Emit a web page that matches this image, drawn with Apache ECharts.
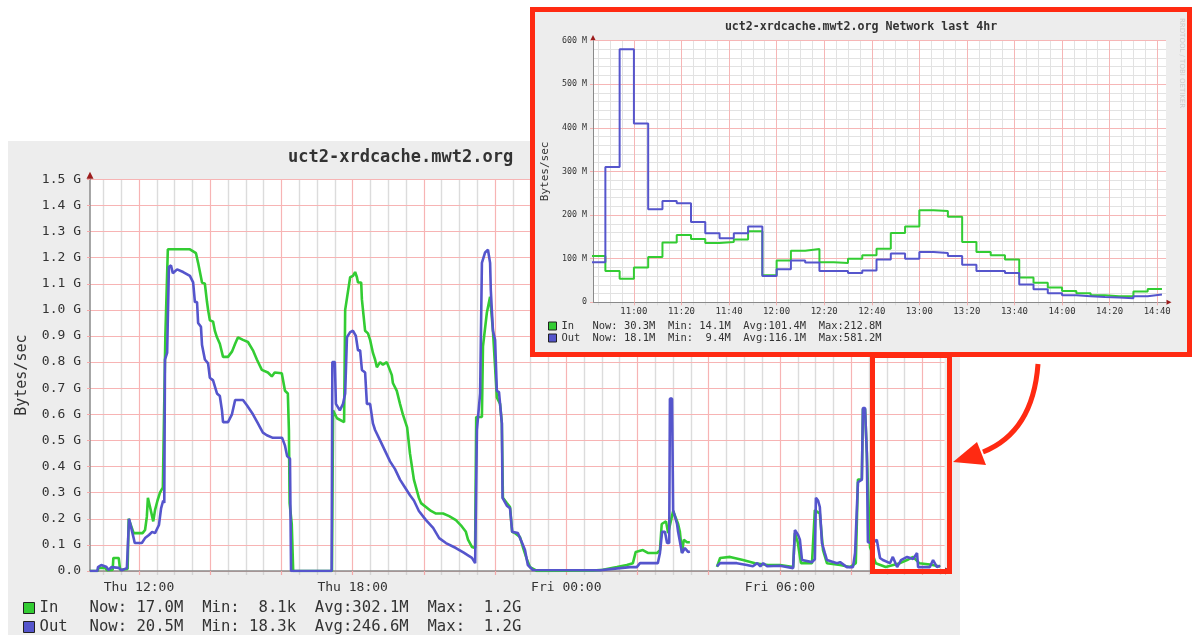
<!DOCTYPE html>
<html><head><meta charset="utf-8">
<script src="https://cdn.jsdelivr.net/npm/echarts@6/dist/echarts.min.js"></script>
<style>
html,body{margin:0;padding:0;background:#fff;width:1192px;height:635px;overflow:hidden;}
#main{position:absolute;left:0;top:0;width:1192px;height:635px;}
#inset{position:absolute;left:530px;top:7px;width:662px;height:350px;box-sizing:border-box;border:5px solid #ff2a12;background:#ededed;}
</style></head><body>
<div id="main"></div><div id="inset"></div>
<script>
// ---------- DATA: last-day chart (x = hours since Thu 00:00, y = GB/s) ----------
const dayIn = [
[10.62,0.0],[10.84,0.0],[10.86,0.012],[11.05,0.012],[11.10,0.003],[11.26,0.004],[11.28,0.05],[11.43,0.05],[11.47,0.004],[11.68,0.008],[11.71,0.20],[11.76,0.20],[11.85,0.145],[12.10,0.145],[12.17,0.157],[12.22,0.207],[12.25,0.28],[12.31,0.245],[12.40,0.19],[12.45,0.233],[12.52,0.27],[12.59,0.30],[12.67,0.32],[12.72,0.32],[12.74,0.90],[12.79,0.90],[12.81,1.232],[13.43,1.232],[13.60,1.217],[13.66,1.18],[13.77,1.105],[13.85,1.10],[13.91,1.03],[13.94,1.0],[13.99,0.96],[14.08,0.955],[14.13,0.92],[14.19,0.895],[14.27,0.87],[14.36,0.82],[14.50,0.82],[14.61,0.84],[14.70,0.87],[14.78,0.895],[14.92,0.885],[15.06,0.877],[15.20,0.845],[15.31,0.81],[15.45,0.77],[15.62,0.76],[15.73,0.745],[15.81,0.76],[16.01,0.757],[16.10,0.69],[16.18,0.68],[16.21,0.54],[16.23,0.26],[16.27,0.26],[16.29,0.18],[16.31,0.18],[16.33,0.0],
[17.42,0.0],[17.45,0.615],[17.56,0.585],[17.76,0.57],[17.79,1.0],[17.84,1.0],[17.93,1.125],[18.01,1.13],[18.07,1.145],[18.12,1.125],[18.15,1.105],[18.24,1.105],[18.26,1.04],[18.30,1.04],[18.35,0.92],[18.43,0.91],[18.49,0.885],[18.57,0.835],[18.63,0.81],[18.68,0.78],[18.77,0.80],[18.85,0.79],[18.96,0.80],[19.00,0.80],[19.10,0.75],[19.13,0.72],[19.24,0.69],[19.33,0.64],[19.41,0.60],[19.53,0.55],[19.61,0.45],[19.72,0.35],[19.86,0.28],[19.92,0.26],[20.20,0.23],[20.34,0.22],[20.54,0.22],[20.71,0.21],[20.90,0.195],[21.04,0.175],[21.18,0.15],[21.24,0.12],[21.35,0.092],[21.44,0.088],
[21.47,0.59],[21.63,0.59],[21.66,0.86],[21.77,0.99],[21.86,1.05],[21.94,0.92],[22.05,0.665],[22.14,0.64],[22.19,0.565],[22.22,0.28],[22.33,0.26],[22.42,0.245],[22.48,0.15],[22.56,0.145],[22.70,0.13],[22.78,0.092],[22.90,0.042],[22.98,0.015],[23.18,0.0],[24.75,0.002],[25.03,0.005],[25.42,0.015],[25.70,0.023],[25.87,0.03],[25.95,0.073],[26.15,0.08],[26.29,0.069],[26.55,0.069],[26.63,0.08],[26.68,0.18],[26.80,0.19],[26.86,0.145],[26.89,0.14],[27.00,0.23],[27.14,0.18],[27.19,0.15],[27.25,0.07],[27.30,0.12],[27.39,0.11],[27.47,0.11],[27.8,null],
[28.23,0.016],[28.32,0.05],[28.60,0.054],[28.96,0.042],[29.30,0.03],[29.66,0.023],[30.00,0.023],[30.37,0.015],[30.42,0.145],[30.50,0.11],[30.59,0.03],[30.90,0.03],[30.98,0.233],[31.12,0.22],[31.21,0.08],[31.32,0.03],[31.69,0.023],[31.97,0.015],[32.13,0.03],[32.19,0.35],[32.30,0.35],[32.33,0.62],[32.39,0.62],[32.44,0.45],[32.53,0.092],[32.69,0.03],[32.97,0.015],[33.37,0.03],[33.57,0.042],[33.74,0.054],[33.91,0.03],[34.21,0.025],[34.50,0.017]
];
const dayOut = [
[10.62,0.0],[10.83,0.0],[10.85,0.015],[10.94,0.023],[11.09,0.015],[11.14,0.004],[11.23,0.015],[11.43,0.012],[11.51,0.003],[11.66,0.011],[11.70,0.015],[11.72,0.20],[11.77,0.20],[11.85,0.126],[11.88,0.107],[12.08,0.107],[12.17,0.126],[12.28,0.138],[12.37,0.15],[12.45,0.145],[12.56,0.176],[12.62,0.24],[12.68,0.27],[12.71,0.26],[12.73,0.81],[12.79,0.835],[12.81,0.835],[12.84,1.165],[12.90,1.17],[12.95,1.14],[13.07,1.155],[13.24,1.145],[13.43,1.13],[13.52,1.105],[13.57,1.03],[13.63,1.03],[13.66,0.95],[13.74,0.935],[13.77,0.865],[13.85,0.81],[13.94,0.795],[13.99,0.74],[14.08,0.73],[14.19,0.68],[14.27,0.67],[14.33,0.615],[14.36,0.57],[14.50,0.57],[14.61,0.60],[14.70,0.655],[14.92,0.655],[15.03,0.635],[15.20,0.60],[15.34,0.565],[15.40,0.55],[15.48,0.53],[15.59,0.52],[15.76,0.51],[16.02,0.51],[16.10,0.48],[16.16,0.44],[16.24,0.43],[16.27,0.0],
[17.41,0.0],[17.43,0.80],[17.50,0.80],[17.53,0.64],[17.64,0.615],[17.73,0.64],[17.79,0.68],[17.84,0.895],[17.93,0.915],[18.01,0.92],[18.09,0.90],[18.15,0.845],[18.21,0.845],[18.26,0.77],[18.35,0.76],[18.40,0.64],[18.49,0.64],[18.57,0.565],[18.63,0.54],[18.77,0.50],[18.91,0.46],[19.05,0.42],[19.19,0.39],[19.33,0.35],[19.47,0.32],[19.61,0.29],[19.72,0.27],[19.86,0.23],[20.06,0.195],[20.26,0.165],[20.43,0.126],[20.62,0.107],[20.90,0.088],[21.12,0.07],[21.35,0.05],[21.44,0.03],
[21.46,0.03],[21.49,0.54],[21.58,0.68],[21.63,1.18],[21.66,1.18],[21.72,1.22],[21.80,1.23],[21.86,1.18],[21.88,1.075],[21.94,0.92],[22.00,0.885],[22.05,0.69],[22.11,0.685],[22.19,0.565],[22.21,0.28],[22.33,0.25],[22.42,0.24],[22.48,0.15],[22.64,0.145],[22.76,0.107],[22.84,0.08],[22.92,0.023],[23.06,0.004],[24.95,0.003],[25.51,0.011],[25.79,0.015],[25.98,0.015],[26.07,0.03],[26.57,0.03],[26.63,0.069],[26.69,0.15],[26.77,0.15],[26.83,0.107],[26.89,0.107],[26.91,0.66],[26.97,0.66],[27.00,0.233],[27.05,0.226],[27.11,0.18],[27.14,0.15],[27.19,0.15],[27.25,0.069],[27.28,0.069],[27.33,0.088],[27.42,0.073],[27.47,0.075],[27.8,null],
[28.23,0.018],[28.32,0.03],[28.79,0.03],[29.07,0.023],[29.24,0.018],[29.36,0.03],[29.45,0.018],[29.53,0.03],[29.64,0.018],[30.00,0.02],[30.37,0.011],[30.42,0.157],[30.51,0.138],[30.56,0.12],[30.62,0.042],[30.90,0.034],[30.98,0.045],[31.01,0.28],[31.07,0.27],[31.12,0.245],[31.18,0.107],[31.26,0.069],[31.32,0.042],[31.60,0.03],[31.69,0.034],[31.88,0.015],[32.05,0.015],[32.11,0.069],[32.19,0.34],[32.30,0.35],[32.33,0.624],[32.39,0.624],[32.44,0.45],[32.47,0.11],[32.61,0.107],[32.72,0.12],[32.81,0.05],[32.89,0.042],[33.09,0.03],[33.17,0.054],[33.29,0.015],[33.40,0.042],[33.57,0.054],[33.74,0.046],[33.85,0.069],[33.88,0.015],[34.21,0.015],[34.30,0.042],[34.41,0.015],[34.50,0.0205]
];
const dayLabelHours = [12, 18, 24, 30];
const dayMajorHours = [12, 14, 16, 18, 20, 22, 24, 26, 28, 30, 32, 34];
const dayStats = {
  In:  'Now: 17.0M  Min:  8.1k  Avg:302.1M  Max:  1.2G',
  Out: 'Now: 20.5M  Min: 18.3k  Avg:246.6M  Max:  1.2G'
};

// ---------- DATA: last-4hr inset (x = minutes since midnight, 6-min steps, y = MB/s) ----------
const insetTimes = [642,648,654,660,666,672,678,684,690,696,702,708,714,720,726,732,738,744,750,756,762,768,774,780,786,792,798,804,810,816,822,828,834,840,846,852,858,864,870,876,882];
const insetIn  = [106,72,54,80,104,137,154,145,136,138,144,163,62,96,118,122,92,90,100,108,123,159,174,211,209,196,138,115,108,98,57,45,34,26,21,16,14,14,25,30.3];
const insetOut = [92,310,580,410,213,232,227,184,158,147,158,174,60,76,96,91,72,72,67,73,98,112,100,115,113,106,86,72,72,67,41,30,21,16,14,12,11,9.4,14,18.1];
const insetMajorMinutes = [660,680,700,720,740,760,780,800,820,840,860,880];
const insetStats = {
  In:  'Now: 30.3M  Min: 14.1M  Avg:101.4M  Max:212.8M',
  Out: 'Now: 18.1M  Min:  9.4M  Avg:116.1M  Max:581.2M'
};

// ---------- styling ----------
const MONO = "'DejaVu Sans Mono', monospace";
const GREEN = '#33cc33', BLUE = '#5555cc', RED = '#ff2a12';
const ARROW = '#9c1c1c', AXIS = '#8a8a8a', TXT = '#333';

// tick helpers (grid positions only)
const dayMinorHours = [];
for (let h = 11; h <= 34.5; h += 0.5) if (h % 2 !== 0) dayMinorHours.push(h);
const insetMinorMinutes = [];
for (let m = 645; m <= 880; m += 5) if (m % 20 !== 0) insetMinorMinutes.push(m);

const pad2 = n => String(n).padStart(2, '0');
const fmtDay = h => (h < 24 ? 'Thu ' : 'Fri ') + pad2(Math.floor(h % 24)) + ':00';
const fmtMin = m => pad2(Math.floor(m / 60)) + ':' + pad2(Math.round(m % 60));

function legendRow(name, left, top, box, fs, lh, nameW, stats) {
  return {
    left: left, top: top, padding: 0, orient: 'horizontal', icon: 'rect', itemWidth: box, itemHeight: box,
    selectedMode: false, data: [name],
    itemStyle: { borderColor: '#222', borderWidth: 1 },
    textStyle: { fontFamily: MONO, fontSize: fs, color: TXT, lineHeight: lh,
      rich: { n: { width: nameW, fontFamily: MONO, fontSize: fs, color: TXT, lineHeight: lh },
              s: { fontFamily: MONO, fontSize: fs, color: TXT, lineHeight: lh } } },
    formatter: nm => '{n|' + nm + '}{s|' + stats[nm] + '}'
  };
}

// ================= MAIN (last day) =================
const DAY_MIN = 10.624, DAY_MAX = 34.624;
const mainChart = echarts.init(document.getElementById('main'));
mainChart.setOption({
  animation: false,
  title: {
    text: 'uct2-xrdcache.mwt2.org', left: 288, top: 149, padding: 0,
    textStyle: { fontFamily: MONO, fontSize: 17, fontWeight: 'bold', color: TXT }
  },
  legend: [
    legendRow('In', 23, 600, 11, 15.6, 16, 50, dayStats),
    legendRow('Out', 23, 619, 11, 15.6, 16, 50, dayStats)
  ],
  grid: { left: 90, top: 179.3, width: 854.6, height: 391.7, show: true, backgroundColor: '#fff', borderWidth: 0, outerBoundsMode: 'none' },
  xAxis: [
    { type: 'value', min: DAY_MIN, max: DAY_MAX, position: 'bottom', z: 1,
      axisLine: { show: false, onZero: false }, axisLabel: { show: false },
      axisTick: { show: true, customValues: dayMinorHours, length: 4, lineStyle: { color: '#d4d4d4', width: 1.4 } },
      splitLine: { show: true, lineStyle: { color: '#dcdcdc', width: 1.4 } } },
    { type: 'value', min: DAY_MIN, max: DAY_MAX, position: 'bottom', z: 2,
      axisLine: { show: true, onZero: false, lineStyle: { color: AXIS, width: 1.5 } },
      axisTick: { show: true, customValues: dayMajorHours, length: 4, lineStyle: { color: '#f4a8a8', width: 1.2 } },
      axisLabel: { customValues: dayLabelHours, formatter: fmtDay, margin: 10, fontFamily: MONO, fontSize: 13, color: TXT },
      splitLine: { show: true, lineStyle: { color: '#f7b4b4', width: 1.2 } } },
    { type: 'value', min: DAY_MIN, max: DAY_MAX, position: 'bottom', z: 3,
      axisLine: { show: true, onZero: false, symbol: ['none', 'triangle'], symbolSize: [7, 7], symbolOffset: [0, 4],
        lineStyle: { color: ARROW, width: 0 } },
      axisTick: { show: false }, axisLabel: { show: false }, splitLine: { show: false } }
  ],
  yAxis: [
    { type: 'value', min: 0, max: 1.5, interval: 0.1, position: 'left', z: 2,
      axisLine: { show: true, onZero: false, lineStyle: { color: AXIS, width: 1.5 } },
      axisTick: { show: true, length: 3, lineStyle: { color: '#f4a8a8' } },
      axisLabel: { margin: 9, fontFamily: MONO, fontSize: 13, color: TXT,
        formatter: v => v === 0 ? '0.0' : v.toFixed(1) + ' G' },
      splitLine: { show: true, lineStyle: { color: '#f7b4b4', width: 1.2 } },
      name: 'Bytes/sec', nameLocation: 'middle', nameRotate: 90, nameGap: 60,
      nameTextStyle: { fontFamily: MONO, fontSize: 15, color: TXT } },
    { type: 'value', min: 0, max: 1.5, interval: 0.1, position: 'left', z: 3,
      axisLine: { show: true, onZero: false, symbol: ['none', 'triangle'], symbolSize: [7, 7], symbolOffset: [0, 4],
        lineStyle: { color: ARROW, width: 0 } },
      axisTick: { show: false }, axisLabel: { show: false }, splitLine: { show: false } }
  ],
  series: [
    { name: 'In', type: 'line', xAxisIndex: 1, yAxisIndex: 0, data: dayIn, color: GREEN, symbol: 'none', showSymbol: false,
      lineStyle: { color: GREEN, width: 2.6 }, z: 5 },
    { name: 'Out', type: 'line', xAxisIndex: 1, yAxisIndex: 0, data: dayOut, color: BLUE, symbol: 'none', showSymbol: false,
      lineStyle: { color: BLUE, width: 2.6 }, z: 6 }
  ],
  graphic: [
    { type: 'rect', z: -10, silent: true, shape: { x: 8, y: 141, width: 952, height: 500 }, style: { fill: '#ededed' } },
    { type: 'rect', z: 50, silent: true, shape: { x: 872.5, y: 355.5, width: 77, height: 216 },
      style: { fill: 'none', stroke: RED, lineWidth: 5 } },
    { type: 'bezierCurve', z: 50, silent: true,
      shape: { x1: 1038, y1: 364, x2: 983, y2: 452, cpx1: 1033, cpy1: 432 },
      style: { fill: 'none', stroke: RED, lineWidth: 5 } },
    { type: 'polygon', z: 50, silent: true, shape: { points: [[953, 462], [977, 442], [986, 465]] }, style: { fill: RED } }
  ]
});

// ================= INSET (last 4hr) =================
const INS_MIN = 642.8, INS_MAX = 883.7;
const lastIdx = insetIn.length - 1;
const insetInData = insetTimes.map((t, i) => [t, insetIn[Math.min(i, lastIdx)]]);
const insetOutData = insetTimes.map((t, i) => [t, insetOut[Math.min(i, lastIdx)]]);
const insetChart = echarts.init(document.getElementById('inset'));
insetChart.setOption({
  animation: false,
  title: {
    text: 'uct2-xrdcache.mwt2.org Network last 4hr', left: 'center', top: 9, padding: 0,
    textStyle: { fontFamily: MONO, fontSize: 11.6, fontWeight: 'bold', color: TXT }
  },
  legend: [
    legendRow('In', 13, 308, 8, 10.45, 12, 31, insetStats),
    legendRow('Out', 13, 320, 8, 10.45, 12, 31, insetStats)
  ],
  grid: { left: 58, top: 28.5, width: 573, height: 261.8, show: true, backgroundColor: '#fff', borderWidth: 0, outerBoundsMode: 'none' },
  xAxis: [
    { type: 'value', min: INS_MIN, max: INS_MAX, position: 'bottom', z: 1,
      axisLine: { show: false, onZero: false }, axisLabel: { show: false },
      axisTick: { show: true, customValues: insetMinorMinutes, length: 3, lineStyle: { color: '#dcdcdc' } },
      splitLine: { show: true, lineStyle: { color: '#e2e2e2' } } },
    { type: 'value', min: INS_MIN, max: INS_MAX, position: 'bottom', z: 2,
      axisLine: { show: true, onZero: false, lineStyle: { color: AXIS, width: 1 } },
      axisTick: { show: true, customValues: insetMajorMinutes, length: 3, lineStyle: { color: '#f4b0b0' } },
      axisLabel: { customValues: insetMajorMinutes, formatter: fmtMin, margin: 5, fontFamily: MONO, fontSize: 9, color: TXT },
      splitLine: { show: true, lineStyle: { color: '#f6b6b6' } } },
    { type: 'value', min: INS_MIN, max: INS_MAX, position: 'bottom', z: 3,
      axisLine: { show: true, onZero: false, symbol: ['none', 'triangle'], symbolSize: [5, 5], symbolOffset: [0, 3],
        lineStyle: { color: ARROW, width: 0 } },
      axisTick: { show: false }, axisLabel: { show: false }, splitLine: { show: false } }
  ],
  yAxis: [
    { type: 'value', min: 0, max: 600, interval: 20, position: 'left', z: 1,
      axisLine: { show: false, onZero: false }, axisTick: { show: false }, axisLabel: { show: false },
      splitLine: { show: true, lineStyle: { color: '#e2e2e2' } } },
    { type: 'value', min: 0, max: 600, interval: 100, position: 'left', z: 2,
      axisLine: { show: true, onZero: false, lineStyle: { color: AXIS, width: 1 } },
      axisTick: { show: true, length: 3, lineStyle: { color: '#f4b0b0' } },
      axisLabel: { margin: 6, fontFamily: MONO, fontSize: 8.3, color: TXT, formatter: v => v === 0 ? '0' : v + ' M' },
      splitLine: { show: true, lineStyle: { color: '#f6b6b6' } },
      name: 'Bytes/sec', nameLocation: 'middle', nameRotate: 90, nameGap: 40,
      nameTextStyle: { fontFamily: MONO, fontSize: 11, color: TXT } },
    { type: 'value', min: 0, max: 600, interval: 100, position: 'left', z: 3,
      axisLine: { show: true, onZero: false, symbol: ['none', 'triangle'], symbolSize: [5, 5], symbolOffset: [0, 3],
        lineStyle: { color: ARROW, width: 0 } },
      axisTick: { show: false }, axisLabel: { show: false }, splitLine: { show: false } }
  ],
  series: [
    { name: 'In', type: 'line', step: 'end', xAxisIndex: 1, yAxisIndex: 1, data: insetInData, color: GREEN,
      symbol: 'none', showSymbol: false, lineStyle: { color: GREEN, width: 2 }, z: 5 },
    { name: 'Out', type: 'line', step: 'end', xAxisIndex: 1, yAxisIndex: 1, data: insetOutData, color: BLUE,
      symbol: 'none', showSymbol: false, lineStyle: { color: BLUE, width: 2 }, z: 6 }
  ],
  graphic: [
    { type: 'text', x: 647, y: 6, rotation: -Math.PI / 2, silent: true,
      style: { text: 'RRDTOOL / TOBI OETIKER', fontFamily: "'DejaVu Sans'", fontSize: 7, fill: '#cccccc', align: 'left', verticalAlign: 'middle' } }
  ]
});
</script></body></html>
